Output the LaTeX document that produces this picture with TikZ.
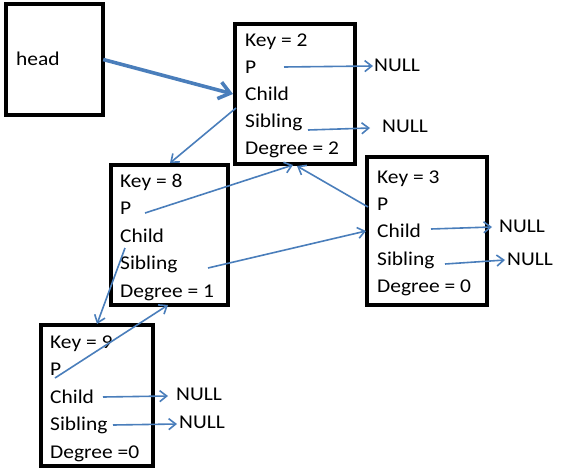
\documentclass[tikz,border=0pt]{standalone}
\usepackage{fontspec}
\setmainfont{Carlito}[FakeStretch=1.1]
\usetikzlibrary{arrows.meta}
\definecolor{arrowblue}{RGB}{74,126,187}
\tikzset{
  box/.style={draw=black, line width=3.1pt, fill=none, inner sep=0pt},
  field/.style={anchor=base west, inner sep=0pt, font=\fontsize{19.5}{19.5}\selectfont},
  link/.style={draw=arrowblue, line width=1.6pt, -{Straight Barb[length=7pt,width=11pt,line width=1.6pt]}},
  biglink/.style={draw=arrowblue, line width=3.6pt, -{Straight Barb[length=11pt,width=17pt,line width=3.6pt]}}
}
\begin{document}
\begin{tikzpicture}[x=1pt,y=-1pt]
\useasboundingbox (0,0) rectangle (569,470);
% boxes
\draw[box] (6,4) rectangle (103,115);
\node[minimum width=97pt, minimum height=111pt, inner sep=0pt] (head) at (54.5,59.5) {};
\draw[box] (235,24) rectangle (355,164);
\node[minimum width=120pt, minimum height=140pt, inner sep=0pt] (b2) at (295,94) {};
\draw[box] (111,165) rectangle (228,305);
\node[minimum width=117pt, minimum height=140pt, inner sep=0pt] (b8) at (169.5,235) {};
\draw[box] (367,157) rectangle (487,305);
\node[minimum width=120pt, minimum height=148pt, inner sep=0pt] (b3) at (427,231) {};
\draw[box] (41,325) rectangle (153,466);
\node[minimum width=112pt, minimum height=141pt, inner sep=0pt] (b9) at (97,395.5) {};
% texts
\node[field] (headtxt) at (16,66) {head};

\node[field] (b2key) at (245,47) {Key = 2};
\node[field] (b2p) at (245,74) {P};
\node[field] (b2child) at (245,101) {Child};
\node[field] (b2sib) at (245,128) {Sibling};
\node[field] (b2deg) at (245,155) {Degree = 2};

\node[field] (b8key) at (120,187) {Key = 8};
\node[field] (b8p) at (120,214) {P};
\node[field] (b8child) at (120,242) {Child};
\node[field] (b8sib) at (120,269) {Sibling};
\node[field] (b8deg) at (120,297) {Degree = 1};

\node[field] (b3key) at (377,183) {Key = 3};
\node[field] (b3p) at (377,210) {P};
\node[field] (b3child) at (377,237) {Child};
\node[field] (b3sib) at (377,265) {Sibling};
\node[field] (b3deg) at (377,292) {Degree = 0};

\node[field] (b9key) at (50,348) {Key = 9};
\node[field] (b9p) at (50,375.5) {P};
\node[field] (b9child) at (50,403) {Child};
\node[field] (b9sib) at (50,430.5) {Sibling};
\node[field] (b9deg) at (50,458) {Degree =0};

% NULLs
\node[field] (n2p) at (374,72) {NULL};
\node[field] (n2s) at (382,133) {NULL};
\node[field] (n3c) at (499,232) {NULL};
\node[field] (n3s) at (507,265) {NULL};
\node[field] (n9c) at (176,400) {NULL};
\node[field] (n9s) at (179,428) {NULL};

% coordinates for arrow ends
\coordinate (h2) at (233,94);
\coordinate (c2s) at (236,108);
\coordinate (c2e) at (170,163);
\coordinate (p8s) at (145,213);
\coordinate (p8e) at (293,165);
\coordinate (p3s) at (368,207);
\coordinate (p3e) at (297,166);
\coordinate (s8s) at (208,268);
\coordinate (s8e) at (366,231);
\coordinate (c8s) at (125,248);
\coordinate (c8e) at (97,324);
\coordinate (p9s) at (55,378);
\coordinate (p9e) at (168,305);
\coordinate (p2s) at (284,67);
\coordinate (p2e) at (373,66);
\coordinate (s2s) at (308,130);
\coordinate (s2e) at (370,128);
\coordinate (c3s) at (431,229);
\coordinate (c3e) at (492,227);
\coordinate (s3s) at (445,264);
\coordinate (s3e) at (505,260);
\coordinate (c9s) at (103,397);
\coordinate (c9e) at (168,396);
\coordinate (s9s) at (113,425);
\coordinate (s9e) at (177,424);

% connectors
\draw[biglink] (head.east) -- (h2);
\draw[link] (c2s) -- (c2e);
\draw[link] (p8s) -- (p8e);
\draw[link] (p3s) -- (p3e);
\draw[link] (s8s) -- (s8e);
\draw[link] (c8s) -- (c8e);
\draw[link] (p9s) -- (p9e);
\draw[link] (p2s) -- (p2e);
\draw[link] (s2s) -- (s2e);
\draw[link] (c3s) -- (c3e);
\draw[link] (s3s) -- (s3e);
\draw[link] (c9s) -- (c9e);
\draw[link] (s9s) -- (s9e);
\end{tikzpicture}
\end{document}
